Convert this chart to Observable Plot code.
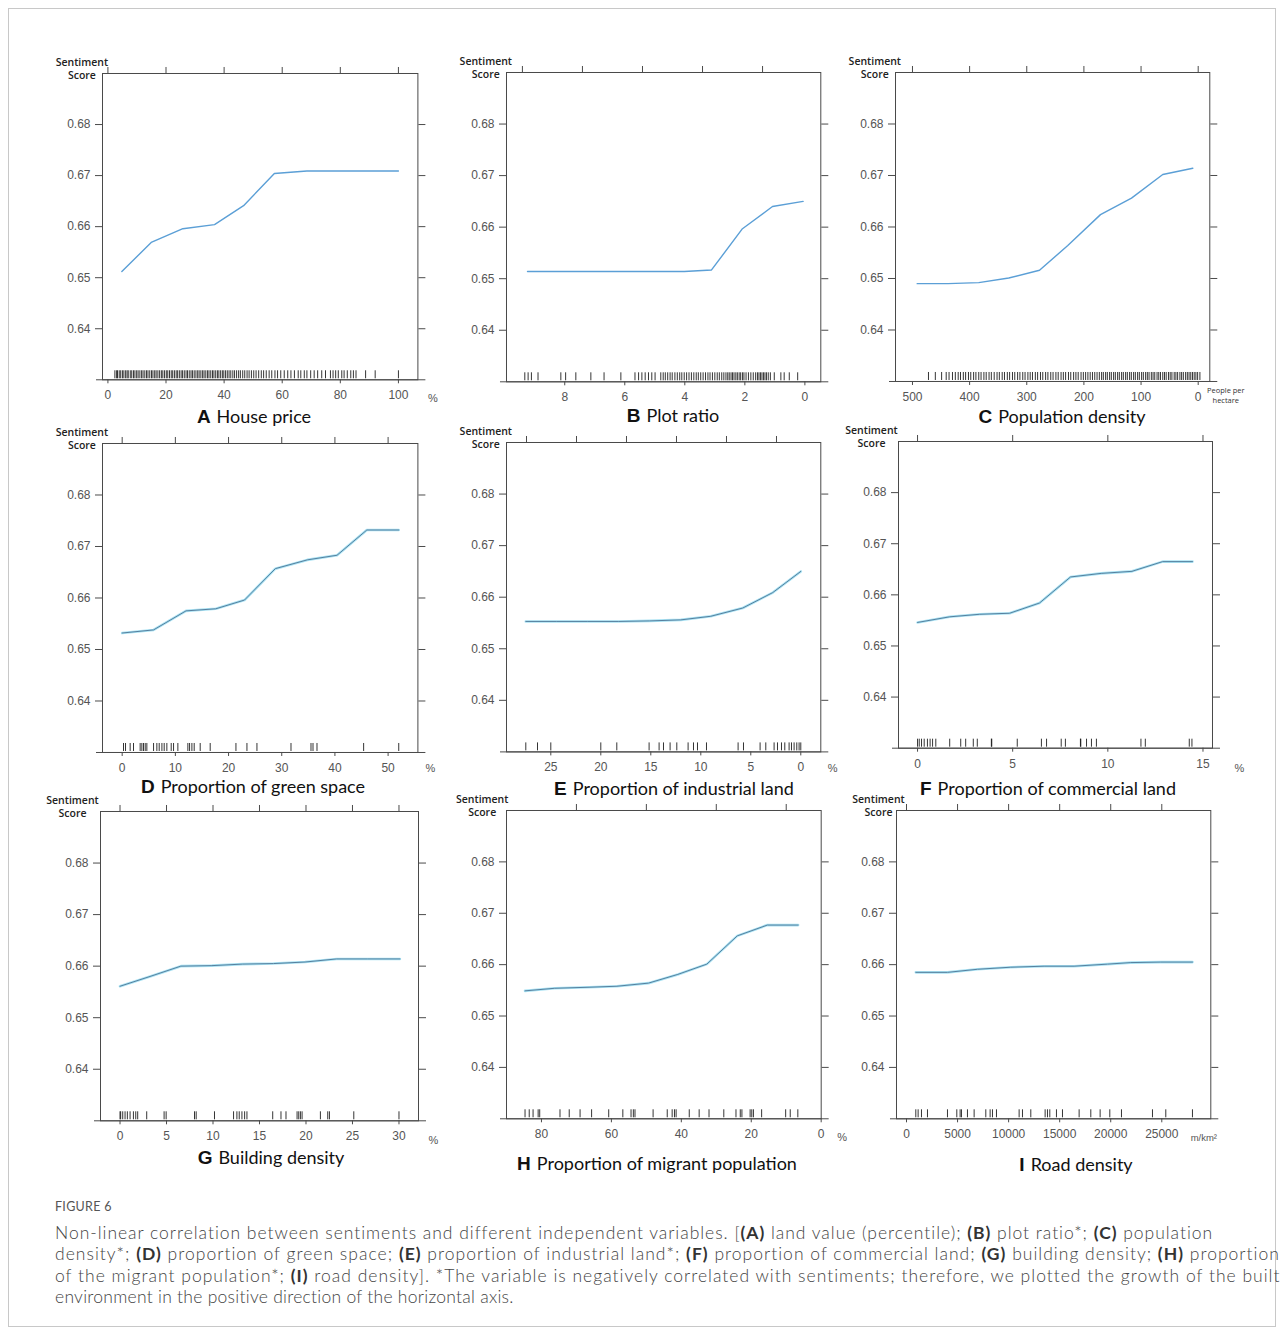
<!DOCTYPE html>
<html>
<head>
<meta charset="utf-8">
<script src="https://cdn.jsdelivr.net/npm/d3@7"></script>
<script src="https://cdn.jsdelivr.net/npm/@observablehq/plot@0.6"></script>
<style>
  html, body { margin: 0; padding: 0; background: #fff; }
  #page { position: relative; width: 1285px; height: 1336px; overflow: hidden; }
  #border { position: absolute; left: 8px; top: 8px; width: 1268px; height: 1319px; border: 1px solid #c8c8c8; box-sizing: border-box; }
  .panel { position: absolute; }
  .ptitle { position: absolute; transform: translate(-50%, -50%); white-space: nowrap; color: #111; }
  .ptitle .lt { font-family: "Liberation Sans", Arial, sans-serif; font-weight: bold; font-size: 19px; margin-right: 6px; }
  .ptitle .tt { font-family: Lato, "Open Sans", sans-serif; font-size: 18px; }
  #fig { position: absolute; left: 55px; top: 1199px; font-family: Lato, "Open Sans", sans-serif; font-size: 12.5px; color: #555; letter-spacing: 0.3px; }
  .cap { position: absolute; left: 55px; white-space: nowrap; font-family: Lato, "Open Sans", sans-serif; font-weight: 300; font-size: 17.5px; color: #444; line-height: 21px; }
  .cap b { font-weight: bold; color: #333; }
</style>
</head>
<body>
<div id="page">
  <div id="border"></div>
</div>
<script>
// ---------------- data ----------------
const yTicks = [0.64, 0.65, 0.66, 0.67, 0.68];

const houseX = [4.8, 14.9, 25.8, 36.7, 46.7, 57.3, 68.5, 79.0, 89.5, 100];
const houseY = [0.6512, 0.6569, 0.6596, 0.6604, 0.6641, 0.6704, 0.6709, 0.6709, 0.6709, 0.6709];
const houseRug = [2.4, 3.0, 3.3, 3.9, 4.4, 5.0, 5.5, 6.1, 6.6, 7.0, 7.7, 8.2, 8.8, 9.3, 9.9, 10.4, 11.0, 11.6, 12.1, 12.7, 13.3, 13.8, 14.4, 15.0, 15.5, 16.1, 16.6, 17.2, 17.8, 18.4, 18.9, 19.5, 20.1, 20.6, 21.2, 21.8, 22.3, 22.9, 23.5, 24.0, 24.6, 25.2, 25.7, 26.3, 26.9, 27.4, 28.0, 28.6, 29.1, 29.7, 30.3, 30.9, 31.4, 32.0, 32.6, 33.1, 33.7, 34.3, 34.8, 35.4, 36.0, 36.5, 37.1, 37.7, 38.2, 38.8, 39.4, 39.9, 40.5, 41.1, 41.7, 42.3, 43.0, 43.6, 44.3, 45.0, 45.6, 46.4, 47.1, 47.9, 48.6, 49.4, 50.2, 51.0, 51.9, 52.8, 53.6, 54.5, 55.5, 56.4, 57.5, 58.4, 59.5, 60.7, 61.9, 63.0, 64.2, 65.5, 66.4, 67.6, 68.5, 69.8, 71.0, 72.2, 73.6, 74.9, 76.6, 77.5, 78.4, 79.3, 80.5, 81.3, 82.4, 83.6, 84.5, 85.4, 88.7, 92.0, 100];
const houseTicks = [0, 20, 40, 60, 80, 100];

const plotRatioX = [9.24, 8.2, 7.2, 6.1, 5.1, 4.02, 3.11, 2.08, 1.08, 0.06];
const plotRatioY = [0.6514, 0.6514, 0.6514, 0.6514, 0.6514, 0.6514, 0.6517, 0.6597, 0.6640, 0.6650];
const plotRatioRug = [9.33, 9.22, 9.11, 8.89, 8.13, 7.97, 7.63, 7.13, 6.69, 6.13, 5.66, 5.54, 5.43, 5.32, 5.21, 5.10, 4.99, 4.80, 4.72, 4.65, 4.57, 4.49, 4.42, 4.33, 4.25, 4.17, 4.10, 4.02, 3.94, 3.86, 3.78, 3.70, 3.62, 3.55, 3.47, 3.39, 3.31, 3.23, 3.16, 3.08, 3.00, 2.92, 2.85, 2.77, 2.70, 2.63, 2.57, 2.52, 2.46, 2.41, 2.36, 2.30, 2.25, 2.19, 2.14, 2.08, 2.03, 1.96, 1.88, 1.80, 1.72, 1.64, 1.58, 1.53, 1.48, 1.43, 1.38, 1.33, 1.28, 1.22, 1.15, 1.02, 0.80, 0.69, 0.52, 0.24];
const plotRatioTicks = [8, 6, 4, 2, 0];

const popX = [491.8, 438, 384, 331.5, 277.7, 228.2, 171, 116.7, 62, 9.4];
const popY = [0.6490, 0.6490, 0.6492, 0.6501, 0.6516, 0.6564, 0.6624, 0.6656, 0.6702, 0.6714];
const popRug = [472, 460, 449, 441, 436, 430, 425, 420, 416, 411, 407, 402, 398, 393, 389, 384, 380, 375, 371, 366, 362, 357, 352, 348, 343, 339, 334, 330, 325, 321, 316, 312, 307, 303, 298, 294, 290, 285, 281, 276, 272, 267, 263, 258, 254, 249, 245, 240, 236, 232, 227, 223, 218, 214, 210, 205, 201, 197, 193, 189, 185, 181, 177, 173, 169, 166, 162, 159, 155, 152, 148, 145, 141, 138, 134, 131, 127, 124, 120, 117, 113, 110, 106, 103, 99, 96, 92, 89, 86, 82, 79, 76, 72, 69, 66, 62, 59, 56, 52, 49, 46, 42, 39, 36, 32, 29, 26, 22, 19, 16, 13, 10, 7, 4, 1, -3];
const popTicks = [500, 400, 300, 200, 100, 0];

const greenX = [0, 5.9, 12.0, 17.6, 23.0, 28.8, 34.8, 40.4, 46.0, 52.0];
const greenY = [0.6532, 0.6538, 0.6575, 0.6579, 0.6596, 0.6657, 0.6674, 0.6683, 0.6732, 0.6732];
const greenRug = [0.25, 0.63, 1.5, 2.13, 3.38, 3.7, 4.01, 4.33, 4.64, 5.9, 6.52, 6.96, 7.47, 7.9, 8.4, 9.22, 9.66, 10.47, 12.35, 12.67, 13.11, 13.54, 14.67, 16.55, 21.39, 23.46, 25.34, 31.74, 35.5, 35.88, 36.63, 45.4, 52.0];
const greenTicks = [0, 10, 20, 30, 40, 50];

const industX = [27.5, 24.4, 21.3, 18.2, 15.1, 12.0, 9.0, 5.8, 2.8, 0];
const industY = [0.6553, 0.6553, 0.6553, 0.6553, 0.6554, 0.6556, 0.6563, 0.6579, 0.6609, 0.6650];
const industRug = [27.5, 26.33, 25.0, 20.0, 18.4, 15.17, 14.17, 13.73, 13.07, 12.4, 11.27, 10.73, 10.33, 9.43, 6.27, 5.73, 4.07, 3.5, 2.67, 2.33, 1.93, 1.6, 1.17, 0.93, 0.67, 0.4, 0.17, 0.0];
const industTicks = [25, 20, 15, 10, 5, 0];

const commX = [0, 1.69, 3.27, 4.84, 6.41, 8.04, 9.65, 11.27, 12.88, 14.45];
const commY = [0.6546, 0.6557, 0.6562, 0.6564, 0.6584, 0.6635, 0.6642, 0.6646, 0.6665, 0.6665];
const commRug = [0, 0.09, 0.21, 0.35, 0.52, 0.66, 0.79, 0.96, 1.69, 2.27, 2.53, 2.93, 3.14, 3.88, 3.9, 5.24, 6.51, 6.78, 7.55, 7.77, 8.56, 8.58, 8.88, 9.14, 9.4, 11.74, 11.97, 14.28, 14.42];
const commTicks = [0, 5, 10, 15];

const buildX = [0, 3.23, 6.54, 9.88, 13.2, 16.5, 19.9, 23.3, 26.6, 30.1];
const buildY = [0.6561, 0.6580, 0.6600, 0.6601, 0.6604, 0.6605, 0.6608, 0.6614, 0.6614, 0.6614];
const buildRug = [0, 0.07, 0.29, 0.54, 0.79, 1.08, 1.44, 1.69, 1.9, 2.87, 4.74, 4.96, 8.01, 8.19, 10.16, 12.21, 12.57, 12.82, 13.11, 13.4, 13.65, 16.42, 17.31, 17.85, 19.04, 19.22, 19.4, 19.58, 21.55, 22.34, 22.52, 25.14, 30.0];
const buildTicks = [0, 5, 10, 15, 20, 25, 30];

const migrX = [84.7, 76.2, 66.4, 58.4, 49.4, 41.0, 32.7, 24.0, 15.4, 6.6];
const migrY = [0.6549, 0.6554, 0.6556, 0.6558, 0.6564, 0.6581, 0.6601, 0.6656, 0.6677, 0.6677];
const migrRug = [84.7, 83.5, 82.4, 80.95, 80.5, 74.7, 72.06, 68.96, 65.66, 60.77, 56.73, 54.38, 53.72, 53.25, 48.07, 44.03, 42.62, 41.96, 41.49, 37.73, 34.9, 32.08, 27.85, 24.37, 23.14, 22.67, 20.32, 19.85, 19.38, 17.03, 10.16, 8.85, 6.68];
const migrTicks = [80, 60, 40, 20, 0];

const roadX = [911, 4015, 6952, 10213, 13474, 16411, 19682, 21964, 24900, 28006];
const roadY = [0.6585, 0.6585, 0.6591, 0.6595, 0.6597, 0.6597, 0.6601, 0.6604, 0.6605, 0.6605];
const roadRug = [911, 1139, 1466, 2053, 4012, 4926, 5252, 5383, 5970, 6623, 7766, 8190, 8419, 8811, 11030, 11357, 12173, 13576, 13805, 14034, 14686, 15274, 16906, 18049, 18963, 19909, 21052, 24088, 25393, 28005];
const roadTicks = [0, 5000, 10000, 15000, 20000, 25000];

const letters = ["A", "B", "C", "D", "E", "F", "G", "H", "I"];
const titles = ["House price", "Plot ratio", "Population density", "Proportion of green space", "Proportion of industrial land", "Proportion of commercial land", "Building density", "Proportion of migrant population", "Road density"];
const units = ["%", "", "People per\nhectare", "%", "%", "%", "%", "%", "m/km²"];

// ---------------- layout ----------------
const series = [
  {x: houseX, y: houseY, rug: houseRug, ticks: houseTicks},
  {x: plotRatioX, y: plotRatioY, rug: plotRatioRug, ticks: plotRatioTicks},
  {x: popX, y: popY, rug: popRug, ticks: popTicks},
  {x: greenX, y: greenY, rug: greenRug, ticks: greenTicks},
  {x: industX, y: industY, rug: industRug, ticks: industTicks},
  {x: commX, y: commY, rug: commRug, ticks: commTicks},
  {x: buildX, y: buildY, rug: buildRug, ticks: buildTicks},
  {x: migrX, y: migrY, rug: migrRug, ticks: migrTicks},
  {x: roadX, y: roadY, rug: roadRug, ticks: roadTicks}
];
const layout = [
  {L: 102.3, R: 417.7, T: 72.7, B: 379, dom: [-1.86, 106.7], mirror: false, sdx: -20.6, udx: 10, udy: 17, tcx: 254, tcy: 416, style: 1},
  {L: 505.7, R: 820, T: 71.7, B: 381, dom: [9.94, -0.53], mirror: true, sdx: -20.7, udx: 10, udy: 17, tcx: 673, tcy: 415, style: 1},
  {L: 895, R: 1209.3, T: 72, B: 381, dom: [529.7, -20.3], mirror: false, sdx: -20.7, udx: 16, udy: 13.5, tcx: 1062, tcy: 416, style: 1},
  {L: 102.3, R: 417.7, T: 442.7, B: 751.7, dom: [-3.7, 55.6], mirror: false, sdx: -20.6, udx: 7.5, udy: 15, tcx: 253, tcy: 786, style: 2},
  {L: 505.7, R: 820, T: 442.3, B: 751.7, dom: [29.43, -2.0], mirror: true, sdx: -20.7, udx: 7, udy: 15, tcx: 674, tcy: 788, style: 2},
  {L: 897.7, R: 1211.7, T: 441, B: 747.7, dom: [-1.0, 15.5], mirror: false, sdx: -27, udx: 22, udy: 19, tcx: 1048, tcy: 788, style: 2},
  {L: 100.3, R: 418.3, T: 810.7, B: 1120, dom: [-2.1, 32.1], mirror: false, sdx: -28, udx: 10, udy: 18, tcx: 271, tcy: 1157, style: 2},
  {L: 506, R: 820.7, T: 810, B: 1118.3, dom: [90, 0], mirror: true, sdx: -24.3, udx: 16, udy: 17, tcx: 657, tcy: 1163, style: 2},
  {L: 895.7, R: 1210, T: 810, B: 1118.3, dom: [-980, 29800], mirror: false, sdx: -18, udx: -7, udy: 18, tcx: 1076, tcy: 1164, style: 2}
];

const mL = 62, mR = 50, mT = 28, mB = 36;
const page = document.getElementById("page");
const axisColor = "#4a4a4a";
const tickFont = "'Liberation Sans', Arial, sans-serif";

series.forEach((s, i) => {
  const g = layout[i];
  const fw = g.R - g.L, fh = g.B - g.T;
  const pts = s.x.map((x, k) => ({x, y: s.y[k]}));
  const topTicks = g.mirror
    ? s.ticks.filter(t => !(g.dom[0] === 90 && t === 0)).map(t => g.dom[0] + g.dom[1] - t)
    : s.ticks;
  const lineMarks = g.style === 1
    ? [Plot.line(pts, {x: "x", y: "y", stroke: "#5b9fd6", strokeWidth: 1.4})]
    : [Plot.line(pts, {x: "x", y: "y", stroke: "#a9e2f3", strokeWidth: 2.6}),
       Plot.line(pts, {x: "x", y: "y", stroke: "#55809f", strokeWidth: 1.0})];
  const chart = Plot.plot({
    width: fw + mL + mR,
    height: fh + mT + mB,
    marginLeft: mL, marginRight: mR, marginTop: mT, marginBottom: mB,
    style: {fontFamily: tickFont, fontSize: "12px", color: "#555", background: "transparent", overflow: "visible"},
    x: {domain: g.dom},
    y: {domain: [0.63, 0.69]},
    marks: [
      Plot.ruleX(s.rug, {x: d => d, stroke: "#111", strokeOpacity: 0.85, strokeWidth: 1, insetTop: fh - 9, insetBottom: 1}),
      ...lineMarks,
      Plot.frame({stroke: axisColor, strokeWidth: 1}),
      Plot.ruleY([0.63], {stroke: axisColor, strokeWidth: 1, insetLeft: -6, insetRight: -8}),
      Plot.axisY({anchor: "left", ticks: yTicks, tickSize: 7, tickPadding: 5, tickFormat: d3.format(".2f"), label: null, stroke: axisColor, fill: "#555", fontSize: 12, fontFamily: tickFont}),
      Plot.axisY({anchor: "right", ticks: yTicks, tickSize: 7, tickFormat: () => "", label: null, stroke: axisColor}),
      Plot.axisX({anchor: "bottom", ticks: s.ticks, tickSize: 4, tickPadding: 7, tickFormat: d => String(d), label: null, stroke: axisColor, fill: "#555", fontSize: 12, fontFamily: tickFont}),
      Plot.axisX({anchor: "top", ticks: topTicks, tickSize: 7, tickFormat: () => "", label: null, stroke: axisColor}),
      Plot.text(["Sentiment\nScore"], {frameAnchor: "top-left", dx: g.sdx, dy: -5, textAnchor: "middle", lineAnchor: "middle", lineHeight: 1.2, fontFamily: "'Open Sans', sans-serif", fontWeight: 600, fontSize: 10.5, fill: "#222"}),
      units[i] ? Plot.text([units[i]], {frameAnchor: "bottom-right", dx: g.udx, dy: g.udy,
        textAnchor: i === 2 || i === 8 ? "middle" : "start", lineAnchor: "middle", lineHeight: 1.35,
        fontSize: i === 2 ? 7.5 : (i === 8 ? 9.5 : 11), fill: i === 2 ? "#333" : "#555",
        fontFamily: i === 2 ? "'Open Sans', sans-serif" : tickFont}) : null
    ]
  });
  const wrap = document.createElement("div");
  wrap.className = "panel";
  wrap.style.left = (g.L - mL) + "px";
  wrap.style.top = (g.T - mT) + "px";
  wrap.appendChild(chart);
  page.appendChild(wrap);

  const t = document.createElement("div");
  t.className = "ptitle";
  t.style.left = g.tcx + "px";
  t.style.top = g.tcy + "px";
  t.innerHTML = `<span class="lt">${letters[i]}</span><span class="tt">${titles[i]}</span>`;
  page.appendChild(t);
});

// ---------------- caption ----------------
const fig = document.createElement("div");
fig.id = "fig";
fig.textContent = "FIGURE 6";
page.appendChild(fig);

const capLines = [
  "Non-linear correlation between sentiments and different independent variables. [<b>(A)</b> land value (percentile); <b>(B)</b> plot ratio*; <b>(C)</b> population",
  "density*; <b>(D)</b> proportion of green space; <b>(E)</b> proportion of industrial land*; <b>(F)</b> proportion of commercial land; <b>(G)</b> building density; <b>(H)</b> proportion",
  "of the migrant population*; <b>(I)</b> road density]. *The variable is negatively correlated with sentiments; therefore, we plotted the growth of the built",
  "environment in the positive direction of the horizontal axis."
];
const capTargets = [1213, 1280, 1280, 514];
const capTops = [1222, 1243, 1265, 1286];
capLines.forEach((html, k) => {
  const d = document.createElement("div");
  d.className = "cap";
  d.style.top = capTops[k] + "px";
  d.innerHTML = html;
  page.appendChild(d);
  const w = d.getBoundingClientRect().width;
  const n = d.textContent.length;
  const ls = (capTargets[k] - 55 - w) / (n - 1);
  d.style.letterSpacing = ls.toFixed(3) + "px";
});
</script>
</body>
</html>
